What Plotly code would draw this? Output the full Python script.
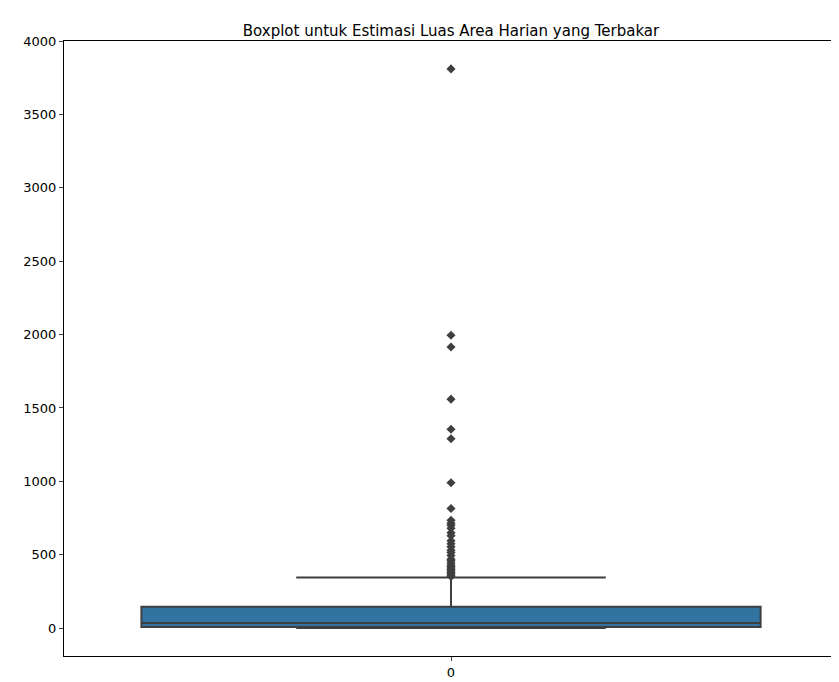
import plotly.graph_objects as go

category = [0]
q1 = [7]
median = [34]
q3 = [146]
lower_fence = [0]
upper_fence = [345]
outliers = [3810, 1995, 1915, 1560, 1355, 1290, 990, 815, 735, 715, 700, 680, 650, 630,
            595, 575, 555, 530, 515, 495, 470, 460, 445, 430, 420, 410, 400, 390, 380, 370, 360, 352]

fig = go.Figure()
fig.add_trace(go.Box(x=category, q1=q1, median=median, q3=q3, lowerfence=lower_fence,
                     upperfence=upper_fence, width=0.8, whiskerwidth=0.5,
                     fillcolor="#3274a1", line=dict(color="#3f3f3f", width=2),
                     boxpoints=False, showlegend=False))
fig.add_trace(go.Scatter(x=[category[0]] * len(outliers), y=outliers, mode="markers",
                         marker=dict(symbol="diamond", size=7, color="#3f3f3f"),
                         showlegend=False))
fig.update_layout(
    width=839, height=682, plot_bgcolor="white", paper_bgcolor="white",
    margin=dict(l=56, r=9, t=33, b=34, autoexpand=False),
    title=dict(text="Boxplot untuk Estimasi Luas Area Harian yang Terbakar", x=0.528, y=0.975,
               xanchor="center", font=dict(size=15, color="black")),
    font=dict(family="DejaVu Sans", size=13, color="black"),
    xaxis=dict(range=[-0.5, 0.5], tickvals=[0], ticktext=["0"], showgrid=False, zeroline=False,
               showline=True, mirror=True, linecolor="black", ticks="outside", ticklen=4,
               automargin=False),
    yaxis=dict(range=[-190, 4000], tickvals=list(range(0, 4001, 500)), showgrid=False, zeroline=False,
               showline=True, mirror=True, linecolor="black", ticks="outside", ticklen=4,
               automargin=False),
)
fig.write_html("out.html")
